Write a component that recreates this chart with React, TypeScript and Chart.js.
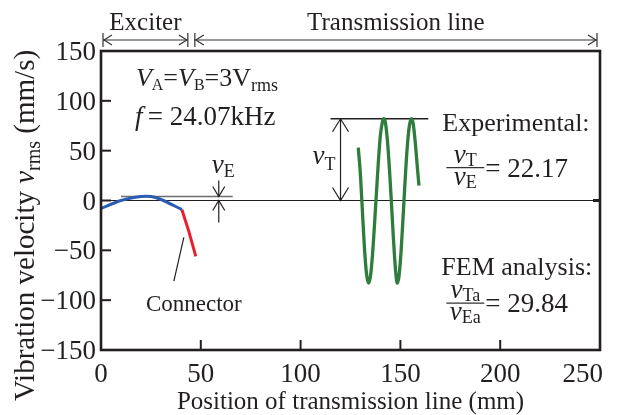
import React, { useEffect, useRef } from "react";
import { Chart, registerables } from "chart.js";

Chart.register(...registerables);

const FONT = '"Liberation Serif", "Times New Roman", serif';
const INK = "#231f20";

// ---- data (mm, mm/s) ----
const exciterX = [0, 10, 20, 25, 30, 40.5];
const exciterY = [-8, 0, 4, 4, 1, -9];
const connectorX = [40.5, 44, 47.5];
const connectorY = [-9, -31, -56];
const lineX = [
  128.9, 130, 131, 132, 133, 134, 135, 136, 137, 138, 139, 140, 141, 141.7,
  142.5, 143.5, 144.5, 145.5, 146.5, 147.5, 148.4, 149.3, 150.3, 151.3, 152.3,
  153.3, 154.3, 155.2, 155.8, 156.5, 157.5, 158.5, 159.3,
];
const lineY = [
  53, 25, -12, -48, -73, -83, -76, -55, -25, 8, 40, 66, 79, 82,
  78, 60, 32, -2, -38, -68, -83, -76, -52, -18, 18,
  50, 72, 81, 82, 76, 57, 33, 15,
];
const xTicks = [0, 50, 100, 150, 200, 250];
const yTicks = [-150, -100, -50, 0, 50, 100, 150];

// ---- annotation anchors (data units) ----
const vERefY = 4;
const vERefSpan = [10, 66];
const vEArrowX = 59;
const vTPeak = 82;
const vTLineSpan = [115, 164];
const vTArrowX = 120;
const exciterSpan = [1, 43.5];
const tlineSpan = [47, 248.5];
const connectorLeader = [
  [41.5, -37],
  [36.5, -81],
];

type Part = { t: string; s: number; i?: boolean; dy?: number };

function font(p: Part) {
  return `${p.i ? "italic " : ""}${p.s}px ${FONT}`;
}

function richWidth(ctx: CanvasRenderingContext2D, parts: Part[]) {
  let w = 0;
  for (const p of parts) {
    ctx.font = font(p);
    w += ctx.measureText(p.t).width;
  }
  return w;
}

function drawRich(
  ctx: CanvasRenderingContext2D,
  x: number,
  y: number,
  parts: Part[],
  align: "left" | "center" | "right" = "left"
) {
  const w = richWidth(ctx, parts);
  let cx = align === "left" ? x : align === "center" ? x - w / 2 : x - w;
  ctx.textAlign = "left";
  ctx.textBaseline = "alphabetic";
  for (const p of parts) {
    ctx.font = font(p);
    ctx.fillText(p.t, cx, y + (p.dy || 0));
    cx += ctx.measureText(p.t).width;
  }
  return w;
}

function line(ctx: CanvasRenderingContext2D, x1: number, y1: number, x2: number, y2: number) {
  ctx.beginPath();
  ctx.moveTo(x1, y1);
  ctx.lineTo(x2, y2);
  ctx.stroke();
}

// open arrow head with tip at (x,y), pointing in direction (dx,dy)
function head(ctx: CanvasRenderingContext2D, x: number, y: number, dx: number, dy: number, len = 12, half = 7) {
  const px = -dy, py = dx;
  ctx.beginPath();
  ctx.moveTo(x - dx * len + px * half, y - dy * len + py * half);
  ctx.lineTo(x, y);
  ctx.lineTo(x - dx * len - px * half, y - dy * len - py * half);
  ctx.stroke();
}

function drawFraction(
  ctx: CanvasRenderingContext2D,
  x: number,
  barY: number,
  num: Part[],
  den: Part[],
  value: string
) {
  const bw = Math.max(richWidth(ctx, num), richWidth(ctx, den), 36) + 2;
  ctx.lineWidth = 1.2;
  line(ctx, x, barY, x + bw, barY);
  drawRich(ctx, x + bw / 2, barY - 5, num, "center");
  drawRich(ctx, x + bw / 2, barY + 17, den, "center");
  drawRich(ctx, x + bw + 1, barY + 9, [{ t: "= " + value, s: 27 }]);
}

const annotPlugin = {
  id: "annot",
  beforeDatasetsDraw(chart: any) {
    const { ctx, chartArea: a, scales } = chart;
    const xs = scales.x, ys = scales.y;
    ctx.save();
    ctx.strokeStyle = INK;
    // zero line
    ctx.lineWidth = 1.2;
    const y0 = ys.getPixelForValue(0);
    line(ctx, a.left, y0, a.right, y0);
    ctx.lineWidth = 3;
    line(ctx, a.right - 7, y0, a.right, y0);
    // vE reference line
    ctx.strokeStyle = "#6d6d6d";
    ctx.lineWidth = 1.5;
    const yr = ys.getPixelForValue(vERefY);
    line(ctx, xs.getPixelForValue(vERefSpan[0]), yr, xs.getPixelForValue(vERefSpan[1]), yr);
    // vT peak line
    ctx.strokeStyle = INK;
    ctx.lineWidth = 1.3;
    const yp = ys.getPixelForValue(vTPeak);
    line(ctx, xs.getPixelForValue(vTLineSpan[0]), yp, xs.getPixelForValue(vTLineSpan[1]), yp);
    ctx.restore();
  },
  afterDatasetsDraw(chart: any) {
    const { ctx, chartArea: a, scales } = chart;
    const xs = scales.x, ys = scales.y;
    const X = (v: number) => xs.getPixelForValue(v);
    const Y = (v: number) => ys.getPixelForValue(v);
    ctx.save();
    ctx.strokeStyle = INK;
    ctx.fillStyle = INK;

    // box
    ctx.lineWidth = 2.6;
    ctx.strokeRect(a.left, a.top, a.right - a.left, a.bottom - a.top);
    // inward ticks + tick labels
    ctx.lineWidth = 2;
    for (const v of yTicks) {
      const y = Y(v);
      line(ctx, a.left, y, a.left + 10, y);
      drawRich(ctx, a.left - 5, y + 9, [{ t: String(v).replace("-", "\u2212"), s: 27 }], "right");
    }
    for (const v of xTicks) {
      const x = X(v);
      line(ctx, x, a.bottom, x, a.bottom - 10);
      ctx.font = `27px ${FONT}`;
      const w = ctx.measureText(String(v)).width;
      const cx = Math.min(x, a.right + 3 - w / 2);
      drawRich(ctx, cx, a.bottom + 32, [{ t: String(v), s: 27 }], "center");
    }

    // vE arrows
    ctx.lineWidth = 1.2;
    const ax = X(vEArrowX);
    const yr = Y(vERefY), y0 = Y(0);
    line(ctx, ax, yr - 16, ax, yr);
    head(ctx, ax, yr, 0, 1, 10, 6);
    line(ctx, ax, y0 + 22, ax, y0);
    head(ctx, ax, y0, 0, -1, 10, 6);

    // vT arrow
    const tx = X(vTArrowX), yp = Y(vTPeak);
    line(ctx, tx, yp, tx, y0);
    head(ctx, tx, yp, 0, -1, 13, 8);
    head(ctx, tx, y0, 0, 1, 13, 8);

    // connector leader
    ctx.lineWidth = 1.2;
    line(ctx, X(connectorLeader[0][0]), Y(connectorLeader[0][1]), X(connectorLeader[1][0]), Y(connectorLeader[1][1]));

    // top region arrows
    ctx.strokeStyle = "#333";
    ctx.lineWidth = 1.2;
    const ty = a.top - 11;
    for (const [s, e] of [exciterSpan, tlineSpan]) {
      const x1 = X(s), x2 = X(e);
      line(ctx, x1, ty, x2, ty);
      line(ctx, x1, ty - 7, x1, ty + 7);
      line(ctx, x2, ty - 7, x2, ty + 7);
      head(ctx, x1 + 1, ty, -1, 0, 8, 5);
      head(ctx, x2 - 1, ty, 1, 0, 8, 5);
    }
    ctx.fillStyle = INK;
    drawRich(ctx, (X(exciterSpan[0]) + X(exciterSpan[1])) / 2, a.top - 21, [{ t: "Exciter", s: 25 }], "center");
    drawRich(ctx, (X(tlineSpan[0]) + X(tlineSpan[1])) / 2, a.top - 21, [{ t: "Transmission line", s: 25 }], "center");

    // plot texts
    drawRich(ctx, X(17.5), Y(115), [
      { t: "V", s: 26, i: true },
      { t: "A", s: 16, dy: 4 },
      { t: "=", s: 26 },
      { t: "V", s: 26, i: true },
      { t: "B", s: 16, dy: 4 },
      { t: "=3V", s: 26 },
      { t: "rms", s: 18, dy: 5 },
    ]);
    drawRich(ctx, X(17), Y(76), [
      { t: "f", s: 27, i: true },
      { t: "\u2009= 24.07kHz", s: 27 },
    ]);
    drawRich(ctx, X(55.5), Y(28), [
      { t: "v", s: 27, i: true },
      { t: "E", s: 18, dy: 4 },
    ]);
    drawRich(ctx, X(106), Y(37), [
      { t: "v", s: 27, i: true },
      { t: "T", s: 18, dy: 6 },
    ]);
    drawRich(ctx, X(171), Y(70), [{ t: "Experimental:", s: 26 }]);
    drawFraction(
      ctx,
      X(173),
      Y(33),
      [{ t: "v", s: 27, i: true }, { t: "T", s: 18, dy: 3 }],
      [{ t: "v", s: 27, i: true }, { t: "E", s: 18, dy: 3 }],
      "22.17"
    );
    drawRich(ctx, X(170.5), Y(-75), [{ t: "FEM analysis:", s: 26 }]);
    drawFraction(
      ctx,
      X(173),
      Y(-103),
      [{ t: "v", s: 27, i: true }, { t: "Ta", s: 18, dy: 3 }],
      [{ t: "v", s: 27, i: true }, { t: "Ea", s: 18, dy: 3 }],
      "29.84"
    );
    drawRich(ctx, X(22.5), Y(-111), [{ t: "Connector", s: 23 }]);

    // axis titles
    drawRich(ctx, (a.left + a.right) / 2, 409, [{ t: "Position of transmission line (mm)", s: 25 }], "center");
    ctx.save();
    ctx.translate(34, (a.top + a.bottom) / 2 + 25);
    ctx.rotate(-Math.PI / 2);
    drawRich(
      ctx,
      0,
      0,
      [
        { t: "Vibration velocity ", s: 29 },
        { t: "v", s: 29, i: true },
        { t: "rms", s: 20, dy: 6 },
        { t: " (mm/s)", s: 29 },
      ],
      "center"
    );
    ctx.restore();
    ctx.restore();
  },
};

export default function App() {
  const ref = useRef<HTMLCanvasElement | null>(null);
  useEffect(() => {
    document.body.style.margin = "0";
    const canvas = ref.current!;
    const toXY = (xs: number[], ys: number[]) => xs.map((x, i) => ({ x, y: ys[i] }));
    const chart = new Chart(canvas, {
      type: "line",
      data: {
        datasets: [
          {
            data: toXY(exciterX, exciterY),
            borderColor: "#2b5cb4",
            borderWidth: 3,
            pointRadius: 0,
            tension: 0.3,
          },
          {
            data: toXY(connectorX, connectorY),
            borderColor: "#ea1f2b",
            borderWidth: 3,
            pointRadius: 0,
            tension: 0,
          },
          {
            data: toXY(lineX, lineY),
            borderColor: "#2e7d3c",
            borderWidth: 3.3,
            pointRadius: 0,
            cubicInterpolationMode: "monotone",
          },
        ],
      },
      options: {
        animation: false,
        responsive: false,
        devicePixelRatio: 1,
        layout: { padding: { top: 51, right: 21, left: 0, bottom: 0 } },
        plugins: { legend: { display: false }, tooltip: { enabled: false } },
        scales: {
          x: {
            type: "linear",
            min: 0,
            max: 250,
            afterBuildTicks: (s: any) => {
              s.ticks = xTicks.map((v) => ({ value: v }));
            },
            grid: { display: false },
            border: { display: false },
            ticks: { display: false },
            afterFit: (s: any) => {
              s.height = 65;
            },
          },
          y: {
            type: "linear",
            min: -150,
            max: 150,
            afterBuildTicks: (s: any) => {
              s.ticks = yTicks.map((v) => ({ value: v }));
            },
            grid: { display: false },
            border: { display: false },
            ticks: { display: false },
            afterFit: (s: any) => {
              s.width = 101;
            },
          },
        },
      },
      plugins: [annotPlugin],
    } as any);
    return () => chart.destroy();
  }, []);
  return (
    <div style={{ width: 621, height: 415 }}>
      <canvas ref={ref} width={621} height={415} />
    </div>
  );
}
